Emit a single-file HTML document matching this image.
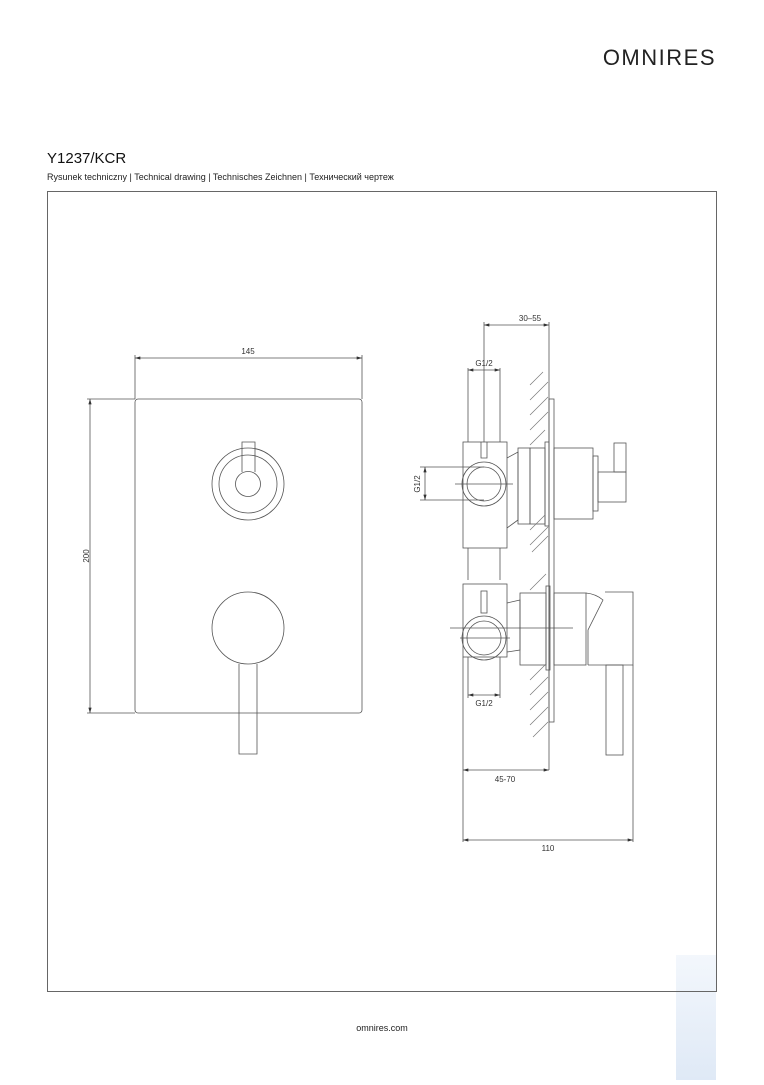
<!DOCTYPE html>
<html><head><meta charset="utf-8"><style>
body{margin:0;background:#fff;width:764px;height:1080px;overflow:hidden;font-family:"Liberation Sans",sans-serif}
</style></head><body>
<svg width="764" height="1080" viewBox="0 0 764 1080" xmlns="http://www.w3.org/2000/svg" font-family="Liberation Sans, sans-serif">
<defs>
<marker id="a" viewBox="0 0 10 6" refX="10" refY="3" markerWidth="7" markerHeight="4" orient="auto-start-reverse"><path d="M0,0L10,3L0,6z" fill="#333"/></marker>
<linearGradient id="wm" x1="0" y1="0" x2="0" y2="1"><stop offset="0" stop-color="#f3f7fc"/><stop offset="1" stop-color="#dfe9f6"/></linearGradient>
</defs>
<rect x="676" y="955" width="40" height="125" fill="url(#wm)"/>
<text x="716" y="65" text-anchor="end" font-size="22" letter-spacing="1.5" fill="#222">OMNIRES</text>
<text x="47" y="163" font-size="15" fill="#111">Y1237/KCR</text>
<text x="47" y="180" font-size="9" fill="#222">Rysunek techniczny | Technical drawing | Technisches Zeichnen | Технический чертеж</text>
<rect x="47.5" y="191.5" width="669" height="800" fill="none" stroke="#666" stroke-width="1"/>
<text x="382" y="1031" text-anchor="middle" font-size="9" fill="#222">omnires.com</text>
<g fill="none" stroke="#555" stroke-width="0.8">
<rect x="135" y="399" width="227" height="314" rx="3"/>
<line x1="135" y1="355" x2="135" y2="399"/><line x1="362" y1="355" x2="362" y2="399"/>
<line x1="135" y1="358" x2="362" y2="358" marker-start="url(#a)" marker-end="url(#a)"/>
<line x1="87" y1="399" x2="135" y2="399"/><line x1="87" y1="713" x2="135" y2="713"/>
<line x1="90" y1="399" x2="90" y2="713" marker-start="url(#a)" marker-end="url(#a)"/>
<circle cx="248" cy="484" r="36"/><circle cx="248" cy="484" r="29"/><circle cx="248" cy="484" r="12.5"/>
<path d="M242,472V442H255V472"/>
<circle cx="248" cy="628" r="36"/>
<path d="M239,664V754H257V664"/>
<line x1="484" y1="322" x2="484" y2="442"/>
<line x1="549" y1="322" x2="549" y2="770"/>
<line x1="484" y1="325" x2="549" y2="325" marker-start="url(#a)" marker-end="url(#a)"/>
<line x1="468" y1="368" x2="468" y2="442"/><line x1="500" y1="368" x2="500" y2="442"/>
<line x1="468" y1="370" x2="500" y2="370" marker-start="url(#a)" marker-end="url(#a)"/>
<rect x="463" y="442" width="44" height="106"/>
<path d="M468,548V580M500,548V580"/>
<circle cx="484" cy="484" r="22"/><circle cx="484" cy="484" r="17"/>
<path d="M481,442V458H487V442"/>
<line x1="455" y1="484" x2="513" y2="484"/>
<line x1="420" y1="467" x2="484" y2="467"/><line x1="420" y1="500" x2="484" y2="500"/>
<line x1="425" y1="467" x2="425" y2="500" marker-start="url(#a)" marker-end="url(#a)"/>
<path d="M507,458L518,452V520L507,528"/>
<rect x="518" y="448" width="12" height="76"/>
<rect x="530" y="448" width="15" height="76"/>
<rect x="545" y="442" width="4" height="84"/>
<rect x="549" y="399" width="5" height="323"/>
<rect x="554" y="448" width="39" height="71"/>
<rect x="593" y="456" width="5" height="55"/>
<rect x="598" y="472" width="28" height="30"/>
<rect x="614" y="443" width="12" height="29"/>
<rect x="463" y="584" width="44" height="73"/>
<path d="M468,657V698M500,657V698"/>
<circle cx="484" cy="638" r="22"/><circle cx="484" cy="638" r="17"/>
<rect x="481" y="591" width="6" height="22"/>
<line x1="450" y1="628" x2="573" y2="628"/><line x1="460" y1="638" x2="510" y2="638"/>
<path d="M507,603L520,600V650L507,652"/>
<rect x="520" y="593" width="26" height="72"/>
<rect x="546" y="586" width="4" height="84"/>
<rect x="554" y="593" width="32" height="72"/>
<path d="M586,593Q596,594 603,600L588,630V665M605,592H633V665H588"/>
<rect x="606" y="665" width="17" height="90"/>
<line x1="468" y1="695" x2="500" y2="695" marker-start="url(#a)" marker-end="url(#a)"/>
<line x1="463" y1="657" x2="463" y2="842"/>
<line x1="633" y1="665" x2="633" y2="842"/>
<line x1="463" y1="770" x2="549" y2="770" marker-start="url(#a)" marker-end="url(#a)"/>
<line x1="463" y1="840" x2="633" y2="840" marker-start="url(#a)" marker-end="url(#a)"/>
</g>
<g stroke="#777" stroke-width="0.7">
<path d="M530,385L543,372M530,400L548,382M530,415L548,397M530,430L548,412M530,445L545,430M530,530L545,515M530,545L548,527M532,552L548,536"/>
<path d="M530,590L546,574M530,680L546,664M530,695L548,677M530,710L548,692M530,725L548,707M533,737L548,722"/>
</g>
<g font-size="8" fill="#333" text-anchor="middle">
<text x="248" y="354">145</text>
<text x="530" y="321">30–55</text>
<text x="484" y="366">G1/2</text>
<text x="484" y="706">G1/2</text>
<text x="505" y="782">45-70</text>
<text x="548" y="851">110</text>
<text transform="translate(89,556) rotate(-90)">200</text>
<text transform="translate(420,484) rotate(-90)">G1/2</text>
</g>
</svg>
</body></html>
